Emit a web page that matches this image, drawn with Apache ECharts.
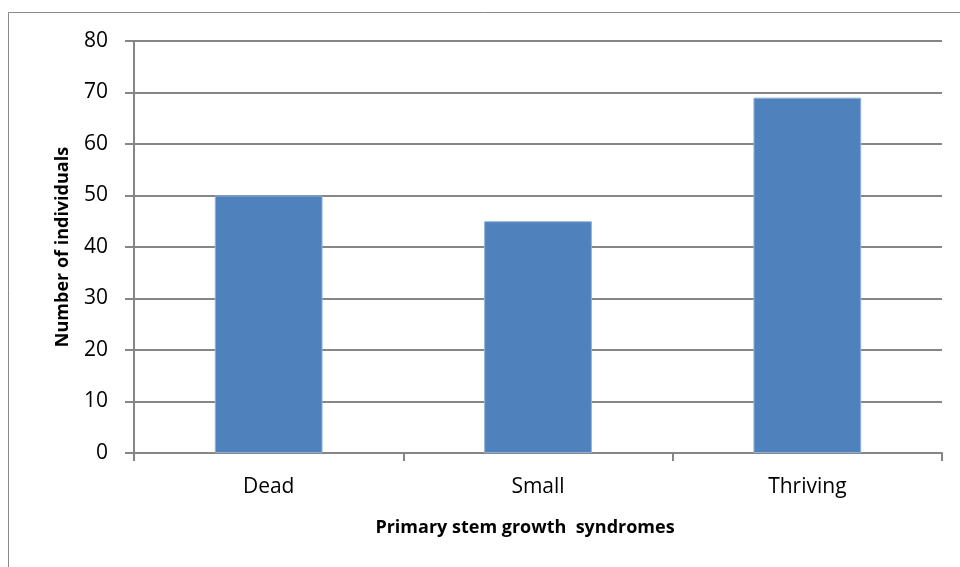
<!DOCTYPE html>
<html><head><meta charset="utf-8">
<script src="https://cdn.jsdelivr.net/npm/echarts@6/dist/echarts.min.js"></script>
<style>html,body{margin:0;padding:0;background:#fff}#c{width:960px;height:567px}</style>
</head><body><div id="c"></div>
<script>
const categories = ["Dead", "Small", "Thriving"];
const values = [50, 45, 69];
const yTicks = { min: 0, max: 80, interval: 10 };
const xTitle = "Primary stem growth  syndromes";
const yTitle = "Number of individuals";

const chart = echarts.init(document.getElementById('c'), null, { renderer: 'canvas' });
const font = "'Open Sans', 'Liberation Sans', sans-serif";
chart.setOption({
  animation: false,
  graphic: [{
    type: 'rect', shape: { x: 8.5, y: 12.5, width: 1000, height: 1000 },
    style: { fill: 'none', stroke: '#8a8a8a', lineWidth: 1 }, silent: true
  }],
  grid: { left: 134, right: 18, top: 41, bottom: 114, containLabel: false },
  xAxis: {
    type: 'category', data: categories,
    axisLine: { lineStyle: { color: '#868686', width: 2 } },
    axisTick: { show: true, alignWithLabel: false, length: 8, lineStyle: { color: '#868686', width: 2 } },
    axisLabel: { color: '#000', fontSize: 21, fontFamily: font, margin: 24 },
    name: xTitle, nameLocation: 'middle', nameGap: 66,
    nameTextStyle: { color: '#000', fontSize: 18, fontWeight: 'bold', fontFamily: font, padding: [0, 26, 0, 0] }
  },
  yAxis: {
    type: 'value', min: yTicks.min, max: yTicks.max, interval: yTicks.interval,
    axisLine: { show: true, lineStyle: { color: '#868686', width: 2 } },
    axisTick: { show: true, length: 9, lineStyle: { color: '#868686', width: 2 } },
    splitLine: { lineStyle: { color: '#868686', width: 2 } },
    axisLabel: { color: '#000', fontSize: 21, fontFamily: font, margin: 26 },
    name: yTitle, nameLocation: 'middle', nameGap: 62, nameRotate: 90,
    nameTextStyle: { color: '#000', fontSize: 18, fontWeight: 'bold', fontFamily: font }
  },
  series: [{
    type: 'bar', data: values, barWidth: '40%',
    itemStyle: { color: '#4F81BD', borderColor: '#8fb0d8', borderWidth: 1 }
  }]
});
</script></body></html>
